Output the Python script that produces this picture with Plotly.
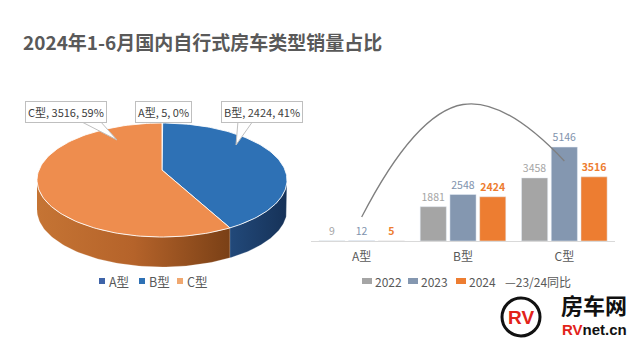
import numpy as np
import plotly.graph_objects as go

# ---------------- data ----------------
title_text = "2024年1-6月国内自行式房车类型销量占比"
pie_labels = ["A型", "B型", "C型"]
pie_values = [5, 2424, 3516]
categories = ["A型", "B型", "C型"]
sales_2022 = [9, 1881, 3458]
sales_2023 = [12, 2548, 5146]
sales_2024 = [5, 2424, 3516]
series_names = ["2022", "2023", "2024"]
line_name = "23/24同比"

# ---------------- style ----------------
# the page body has an 8px margin, so the figure is drawn at (8, 8)
OFF = 8
W, H = 640 - OFF, 360 - OFF
FONT = "Noto Sans CJK SC, Microsoft YaHei, sans-serif"
TXT = "#595959"
bar_colors = ["#a5a5a5", "#8497b0", "#ed7d31"]
bar_text_colors = ["#a5a5a5", "#7f93ad", "#ed7d31"]
top_colors = ["#3f64a8", "#2e71b5", "#ee8d4e"]
wall_scales = [
    [[0, "#2c4a80"], [1, "#1d3560"]],
    [[0, "#22497a"], [1, "#163258"]],
    [[0, "#c57434"], [0.5, "#b5632a"], [1, "#7a4016"]],
]
legend_colors = ["#3f64a8", "#2e71b5", "#f0a870"]

# pie geometry (screen pixels)
CX, CY, RX, RY, DEPTH, APEX = 162, 180, 125, 57, 30, 10


def px(x):
    return (x - OFF) / W


def py(y):
    return 1 - (y - OFF) / H


fig = go.Figure()

# ---------------- 3D pie built from the values ----------------
vals = np.array(pie_values, dtype=float)
cum = np.concatenate([[0], np.cumsum(vals)]) / vals.sum()
depth_u = DEPTH / RY
apex_u = APEX / RY

for i in range(len(vals)):
    a_start = 90 - 360 * cum[i]
    a_end = 90 - 360 * cum[i + 1]
    lo, hi = max(a_end, -180), min(a_start, 0)
    if hi - lo <= 0.01:
        continue
    t = np.radians(np.linspace(lo, hi, 80))
    xs = np.concatenate([np.cos(t), np.cos(t[::-1])])
    ys = np.concatenate([np.sin(t), np.sin(t[::-1]) - depth_u])
    fig.add_trace(go.Scatter(
        x=xs, y=ys, xaxis="x2", yaxis="y2", mode="lines", fill="toself",
        fillgradient=dict(type="horizontal", colorscale=wall_scales[i]),
        line=dict(width=0.6, color="rgba(255,255,255,0.35)"),
        showlegend=False, hoverinfo="skip"))

for i in range(len(vals)):
    a_start = 90 - 360 * cum[i]
    a_end = 90 - 360 * cum[i + 1]
    t = np.radians(np.linspace(a_start, a_end, 120))
    xs = np.concatenate([[0], np.cos(t), [0]])
    ys = np.concatenate([[apex_u], np.sin(t), [apex_u]])
    fig.add_trace(go.Scatter(
        x=xs, y=ys, xaxis="x2", yaxis="y2", mode="lines", fill="toself",
        fillcolor=top_colors[i], line=dict(width=1, color="rgba(255,255,255,0.85)"),
        name=pie_labels[i], showlegend=False, hoverinfo="skip"))

# ---------------- bar chart ----------------
series = [sales_2022, sales_2023, sales_2024]
for k, s in enumerate(series):
    fig.add_trace(go.Bar(
        x=categories, y=s, name=series_names[k], marker_color=bar_colors[k],
        text=[str(v) for v in s], textposition="outside", cliponaxis=False,
        textfont=dict(size=10.5, color=bar_text_colors[k], family=FONT,
                      weight="bold" if k == 2 else "normal"),
        xaxis="x", yaxis="y", showlegend=False))

yoy = [(b / a - 1) * 100 for a, b in zip(sales_2023, sales_2024)]
fig.add_trace(go.Scatter(
    x=categories, y=yoy, name=line_name, mode="lines",
    line=dict(color="#7f7f7f", width=1.3, shape="spline", smoothing=1.3),
    xaxis="x", yaxis="y3", showlegend=False))

# ---------------- legends (compact, drawn as keys + text) ----------------
def key(x0, x1, y0, y1, color):
    fig.add_shape(type="rect", xref="paper", yref="paper",
                  x0=px(x0), x1=px(x1), y0=py(y1), y1=py(y0),
                  fillcolor=color, line=dict(width=0))


def ltext(text, x, y, size=12.5):
    fig.add_annotation(text=text, x=px(x), y=py(y), xref="paper", yref="paper",
                       xanchor="left", yanchor="middle", showarrow=False,
                       font=dict(size=size, color=TXT, family=FONT))


pie_leg_x = [99, 139, 177]
for i, lab in enumerate(pie_labels):
    key(pie_leg_x[i], pie_leg_x[i] + 6, 278, 284, legend_colors[i])
    ltext(lab, pie_leg_x[i] + 8, 281)

bar_leg_x = [362, 408, 456]
for k, name in enumerate(series_names):
    key(bar_leg_x[k], bar_leg_x[k] + 10, 278, 284, bar_colors[k])
    ltext(name, bar_leg_x[k] + 11, 281, 12)
ltext("—" + line_name, 503, 281, 12)

# ---------------- pie labels (callouts) ----------------
callouts = [
    ("C型, 3516, 59%", 66, 112, [(80, 121), (117, 140), (100, 121)]),
    ("A型, 5, 0%", 163, 112, None),
    ("B型, 2424, 41%", 262, 112, [(238, 121), (236, 145), (253, 121)]),
]
for text, x, y, tri in callouts:
    if tri:
        p = "M {} {} L {} {} L {} {}".format(
            px(tri[0][0]), py(tri[0][1]), px(tri[1][0]), py(tri[1][1]),
            px(tri[2][0]), py(tri[2][1]))
        fig.add_shape(type="path", path=p, xref="paper", yref="paper",
                      fillcolor="white", line=dict(color="#bfbfbf", width=1))
    fig.add_annotation(text=text, x=px(x), y=py(y), xref="paper", yref="paper",
                       xanchor="center", yanchor="middle",
                       showarrow=False, bgcolor="white", bordercolor="#bfbfbf",
                       borderwidth=1, borderpad=2,
                       font=dict(size=11, color="#404040", family=FONT))

# ---------------- logo ----------------
fig.add_shape(type="circle", xref="paper", yref="paper",
              x0=px(502), x1=px(540), y0=py(336), y1=py(298),
              line=dict(color="#111111", width=3))
fig.add_annotation(text="<b>RV</b>", x=px(521), y=py(317), xref="paper", yref="paper",
                   xanchor="center", yanchor="middle", showarrow=False,
                   font=dict(size=19, color="#e2231a", family="Liberation Sans"))
fig.add_annotation(text="<b>房车网</b>", x=px(594), y=py(304), xref="paper", yref="paper",
                   xanchor="center", yanchor="middle", showarrow=False, borderpad=0,
                   font=dict(size=22, color="#111111", family=FONT))
fig.add_annotation(text="<b><span style='color:#e2231a'>RV</span>net.cn</b>",
                   x=px(594), y=py(329), xref="paper", yref="paper",
                   xanchor="center", yanchor="middle", showarrow=False, borderpad=0,
                   font=dict(size=15, color="#111111", family="Liberation Sans"))

# ---------------- layout ----------------
fig.update_layout(
    width=W, height=H, margin=dict(l=0, r=0, t=0, b=0),
    paper_bgcolor="white", plot_bgcolor="rgba(0,0,0,0)",
    font=dict(family=FONT, color=TXT),
    title=dict(text="<b>" + title_text + "</b>", x=px(23), xanchor="left",
               y=py(43), yanchor="middle",
               font=dict(size=19, color="#595959", family=FONT)),
    barmode="group", bargap=0.12, bargroupgap=0.12,
    xaxis=dict(domain=[px(311), px(615)], showline=True, linecolor="#d9d9d9",
               linewidth=1, ticks="", showgrid=False, zeroline=False,
               tickfont=dict(size=12, color=TXT), ticklabelstandoff=5),
    yaxis=dict(domain=[py(241), py(95)], range=[0, 8000], visible=False,
               showgrid=False, zeroline=False),
    yaxis3=dict(overlaying="y", range=[-69.7, -0.36], visible=False,
                showgrid=False, zeroline=False),
    xaxis2=dict(domain=[0, px(320)], range=[(OFF - CX) / RX, (320 - CX) / RX],
                visible=False, showgrid=False, zeroline=False),
    yaxis2=dict(domain=[0, 1], range=[(CY - 360) / RY, (CY - OFF) / RY],
                visible=False, showgrid=False, zeroline=False),
    showlegend=False,
)

fig.write_html("out.html")
